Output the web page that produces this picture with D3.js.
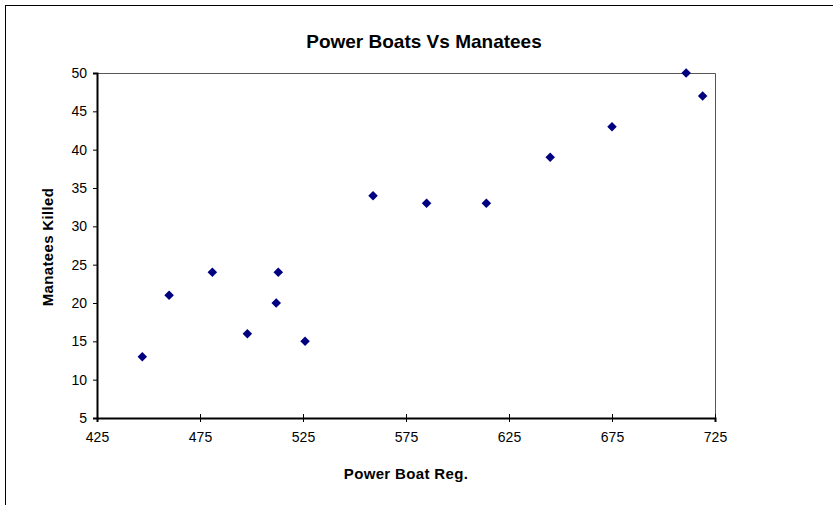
<!DOCTYPE html>
<html lang="en">
<head>
    <meta charset="UTF-8">
    <title>Power Boats Vs Manatees</title>
    <script src="https://d3js.org/d3.v7.min.js"></script>
    <style>
        body { margin: 0; background: #fff; }
        text { font-family: "Liberation Sans", Arial, sans-serif; fill: #000; }
        .title { font-size: 19px; font-weight: bold; }
        .axis-label { font-size: 15px; font-weight: bold; letter-spacing: 0.35px; }
    </style>
</head>
<body>
    <svg width="833" height="505"></svg>

    <script>
        // Power boat registrations (thousands) and manatees killed
        const boats = [447, 460, 481, 498, 513, 512, 526, 559, 585, 614, 645, 675, 711, 719];
        const killed = [13, 21, 24, 16, 24, 20, 15, 34, 33, 33, 39, 43, 50, 47];
        const xTicks = [425, 475, 525, 575, 625, 675, 725];
        const yTicks = [5, 10, 15, 20, 25, 30, 35, 40, 45, 50];

        const svg = d3.select("svg");
        const plot = { left: 97, top: 73, right: 715, bottom: 418 };

        // outer chart frame (runs off the right and bottom edge)
        svg.append("rect")
            .attr("x", 5.5).attr("y", 5.5)
            .attr("width", 900).attr("height", 600)
            .attr("fill", "none")
            .attr("stroke", "#000")
            .attr("stroke-width", 1);

        const x = d3.scaleLinear().domain([425, 725]).range([plot.left, plot.right]);
        const y = d3.scaleLinear().domain([5, 50]).range([plot.bottom, plot.top]);

        // top and right plot border
        svg.append("path")
            .attr("d", `M${plot.left},${plot.top + 0.5}H${plot.right + 0.5}V${plot.bottom}`)
            .attr("fill", "none")
            .attr("stroke", "#555")
            .attr("stroke-width", 1);

        const xAxis = svg.append("g")
            .attr("transform", `translate(0,${plot.bottom})`)
            .call(d3.axisBottom(x).tickValues(xTicks).tickSize(4).tickPadding(10).tickFormat(d3.format("d")));
        xAxis.select(".domain").attr("stroke", "#000").attr("stroke-width", 2);
        xAxis.selectAll(".tick line").attr("y1", -4).attr("stroke", "#000");

        const yAxis = svg.append("g")
            .attr("transform", `translate(${plot.left},0)`)
            .call(d3.axisLeft(y).tickValues(yTicks).tickSize(4).tickPadding(6).tickFormat(d3.format("d")));
        yAxis.select(".domain").attr("stroke", "#000").attr("stroke-width", 2);
        yAxis.selectAll(".tick line").attr("stroke", "#000");

        [xAxis, yAxis].forEach(g => g
            .attr("font-family", "Liberation Sans, Arial, sans-serif")
            .attr("font-size", 14));

        // markers
        const diamond = d3.symbol().type(d3.symbolDiamond2).size(58);
        svg.append("g")
            .selectAll("path")
            .data(boats.map((b, i) => ({ b, k: killed[i] })))
            .enter().append("path")
            .attr("d", diamond)
            .attr("transform", d => `translate(${x(d.b)},${y(d.k)})`)
            .attr("fill", "#000080");

        svg.append("text")
            .attr("class", "title")
            .attr("x", 424).attr("y", 48)
            .attr("text-anchor", "middle")
            .text("Power Boats Vs Manatees");

        svg.append("text")
            .attr("class", "axis-label")
            .attr("x", 406).attr("y", 479)
            .attr("text-anchor", "middle")
            .text("Power Boat Reg.");

        svg.append("text")
            .attr("class", "axis-label")
            .attr("transform", "translate(53,247) rotate(-90)")
            .attr("text-anchor", "middle")
            .text("Manatees Killed");
    </script>
</body>
</html>
